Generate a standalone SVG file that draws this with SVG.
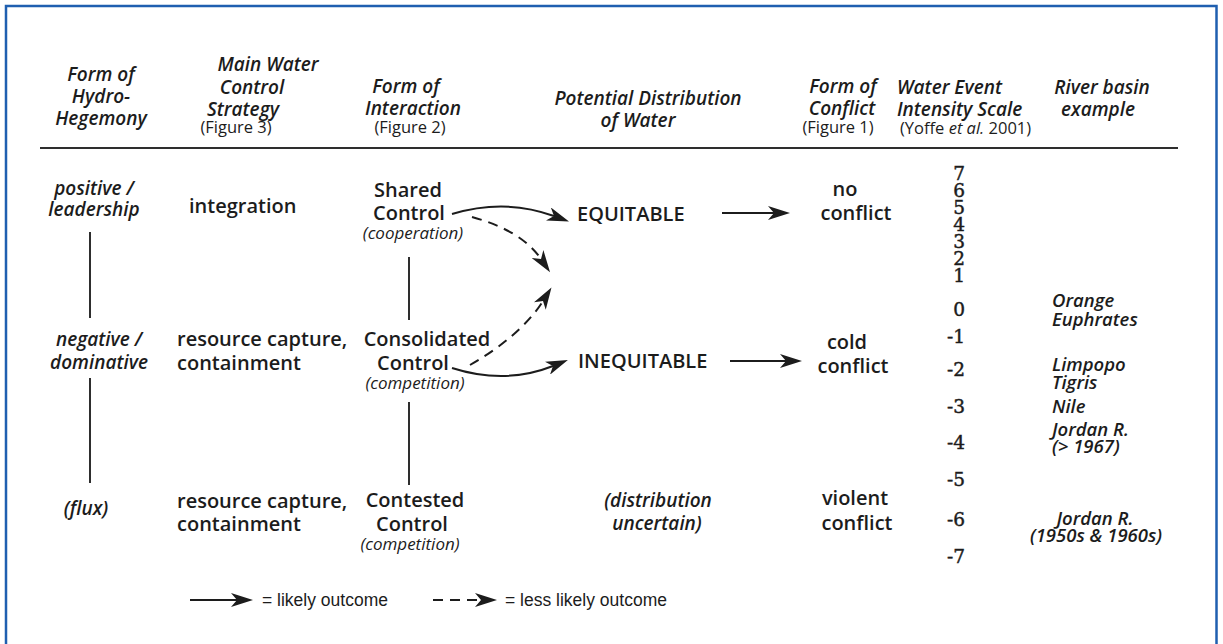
<svg xmlns="http://www.w3.org/2000/svg" width="1223" height="644" viewBox="0 0 1223 644">
  <defs>
    <style>
      text { fill: #1c1c1c; }
      .hd { font-family: "Open Sans", "Noto Sans", sans-serif; font-style: italic; font-weight: 600; font-size: 19px; }
      .fg { font-family: "Open Sans", "Noto Sans", sans-serif; font-size: 16.5px; }
      .bd { font-family: "Open Sans", "Noto Sans", sans-serif; font-weight: 600; font-size: 20px; }
      .it { font-family: "Open Sans", "Noto Sans", sans-serif; font-style: italic; font-weight: 600; font-size: 19px; }
      .bs { font-family: "Open Sans", "Noto Sans", sans-serif; font-style: italic; font-weight: 600; font-size: 18.5px; }
      .sub { font-family: "Open Sans", "Noto Sans", sans-serif; font-style: italic; font-size: 17px; }
      .num { font-family: "DejaVu Serif", "Liberation Serif", serif; font-size: 18.5px; stroke: #1c1c1c; stroke-width: 0.45; }
      .lg { font-family: "Liberation Sans", Arial, sans-serif; font-size: 17.5px; }
      .c { text-anchor: middle; }
      .e { text-anchor: end; }
      .rule { stroke: #2e2e2e; stroke-width: 2; fill: none; }
      .link { stroke: #1c1c1c; stroke-width: 2; fill: none; marker-end: url(#ah); }
      .dash { stroke-dasharray: 10 7; }
    </style>
    <marker id="ah" markerUnits="userSpaceOnUse" markerWidth="24" markerHeight="14" viewBox="0 0 24 14" refX="6" refY="7" orient="auto">
      <path d="M0,0 L22,7 L0,14 L6,7 z" fill="#1c1c1c"/>
    </marker>
  </defs>

  <rect x="0" y="0" width="1223" height="644" fill="#ffffff"/>
  <!-- frame, open at the bottom edge -->
  <rect x="6" y="6" width="1210.5" height="660" fill="none" stroke="#1f5fb0" stroke-width="2.5"/>

  <!-- column headings -->
  <g id="headings">
    <text class="hd c" x="101" y="81">Form of</text>
    <text class="hd c" x="101" y="103">Hydro-</text>
    <text class="hd c" x="101" y="125">Hegemony</text>

    <text class="hd c" x="268" y="71">Main Water</text>
    <text class="hd c" x="252" y="94">Control</text>
    <text class="hd c" x="243" y="116">Strategy</text>
    <text class="fg c" x="236" y="133">(Figure 3)</text>

    <text class="hd c" x="406" y="93">Form of</text>
    <text class="hd c" x="413" y="115">Interaction</text>
    <text class="fg c" x="410" y="133">(Figure 2)</text>

    <text class="hd c" x="648" y="105">Potential Distribution</text>
    <text class="hd c" x="638" y="127">of Water</text>

    <text class="hd c" x="843" y="93">Form of</text>
    <text class="hd c" x="842" y="115">Conflict</text>
    <text class="fg c" x="838" y="133">(Figure 1)</text>

    <text class="hd" x="897" y="94">Water  Event</text>
    <text class="hd" x="897" y="116">Intensity Scale</text>
    <text class="fg" x="900" y="134">(Yoffe <tspan font-style="italic">et al.</tspan> 2001)</text>

    <text class="hd c" x="1102" y="94">River basin</text>
    <text class="hd c" x="1098" y="116">example</text>
  </g>
  <line class="rule" x1="40" y1="148" x2="1178" y2="148"/>

  <!-- hegemony forms -->
  <g id="hegemony-positive">
    <text class="it c" x="94" y="195">positive /</text>
    <text class="it c" x="94" y="216">leadership</text>
  </g>
  <g id="hegemony-negative">
    <text class="it c" x="99" y="346">negative /</text>
    <text class="it c" x="99" y="369">dominative</text>
  </g>
  <g id="hegemony-flux">
    <text class="it c" x="86" y="515">(flux)</text>
  </g>

  <!-- control strategies -->
  <g id="strategy-integration">
    <text class="bd" x="189" y="213">integration</text>
  </g>
  <g id="strategy-capture-1">
    <text class="bd" x="177" y="346">resource capture,</text>
    <text class="bd" x="177" y="370">containment</text>
  </g>
  <g id="strategy-capture-2">
    <text class="bd" x="177" y="508">resource capture,</text>
    <text class="bd" x="177" y="531">containment</text>
  </g>

  <!-- interaction forms -->
  <g id="interaction-shared">
    <text class="bd c" x="408" y="197">Shared</text>
    <text class="bd c" x="409" y="220">Control</text>
    <text class="sub c" x="413" y="239">(cooperation)</text>
  </g>
  <g id="interaction-consolidated">
    <text class="bd c" x="427" y="346">Consolidated</text>
    <text class="bd c" x="413" y="370">Control</text>
    <text class="sub c" x="415" y="389">(competition)</text>
  </g>
  <g id="interaction-contested">
    <text class="bd c" x="415" y="507">Contested</text>
    <text class="bd c" x="412" y="531">Control</text>
    <text class="sub c" x="410" y="550">(competition)</text>
  </g>

  <!-- distribution outcomes -->
  <g id="distribution-equitable">
    <text class="bd" x="577" y="221">EQUITABLE</text>
  </g>
  <g id="distribution-inequitable">
    <text class="bd" x="578" y="368">INEQUITABLE</text>
  </g>
  <g id="distribution-uncertain">
    <text class="it c" x="658" y="507">(distribution</text>
    <text class="it c" x="657" y="530">uncertain)</text>
  </g>

  <!-- conflict forms -->
  <g id="conflict-none">
    <text class="bd c" x="845" y="196">no</text>
    <text class="bd c" x="856" y="220">conflict</text>
  </g>
  <g id="conflict-cold">
    <text class="bd c" x="847" y="349">cold</text>
    <text class="bd c" x="853" y="373">conflict</text>
  </g>
  <g id="conflict-violent">
    <text class="bd c" x="855" y="505">violent</text>
    <text class="bd c" x="857" y="530">conflict</text>
  </g>

  <!-- event intensity scale -->
  <g id="intensity-scale">
    <text class="num e" x="965" y="180">7</text>
    <text class="num e" x="965" y="197">6</text>
    <text class="num e" x="965" y="214">5</text>
    <text class="num e" x="965" y="231">4</text>
    <text class="num e" x="965" y="248">3</text>
    <text class="num e" x="965" y="265">2</text>
    <text class="num e" x="965" y="282">1</text>
    <text class="num e" x="965" y="316">0</text>
    <text class="num e" x="965" y="343">-1</text>
    <text class="num e" x="965" y="376">-2</text>
    <text class="num e" x="965" y="413">-3</text>
    <text class="num e" x="965" y="449">-4</text>
    <text class="num e" x="965" y="486">-5</text>
    <text class="num e" x="965" y="526">-6</text>
    <text class="num e" x="965" y="563">-7</text>
  </g>

  <!-- river basin examples -->
  <g id="basins">
    <text class="bs" x="1052" y="307">Orange</text>
    <text class="bs" x="1052" y="326">Euphrates</text>
    <text class="bs" x="1052" y="371">Limpopo</text>
    <text class="bs" x="1052" y="389">Tigris</text>
    <text class="bs" x="1052" y="413">Nile</text>
    <text class="bs" x="1052" y="436">Jordan R.</text>
    <text class="bs" x="1052" y="453">(&gt; 1967)</text>
    <text class="bs c" x="1095" y="525">Jordan R.</text>
    <text class="bs c" x="1096" y="542">(1950s &amp; 1960s)</text>
  </g>

  <!-- connectors -->
  <g id="connectors">
    <line class="rule" x1="90" y1="232" x2="90" y2="318"/>
    <line class="rule" x1="90" y1="378" x2="90" y2="483"/>
    <line class="rule" x1="409" y1="257" x2="409" y2="320"/>
    <line class="rule" x1="409" y1="402" x2="409" y2="485"/>

    <path class="link" d="M452,214 Q505,198 554,216"/>
    <path class="link dash" d="M472,217 C505,226 528,240 541,259"/>
    <path class="link" d="M452,368 Q505,385 553,366"/>
    <path class="link dash" d="M470,365 C500,348 528,325 543,301"/>

    <line class="link" x1="722" y1="213" x2="774" y2="213"/>
    <line class="link" x1="730" y1="361" x2="786" y2="361"/>
  </g>

  <!-- key -->
  <g id="legend">
    <line class="link" x1="190" y1="600" x2="237" y2="600"/>
    <text class="lg" x="262" y="606">= likely outcome</text>
    <line class="link dash" x1="433" y1="600" x2="481" y2="600"/>
    <text class="lg" x="505" y="606">= less likely outcome</text>
  </g>
</svg>
